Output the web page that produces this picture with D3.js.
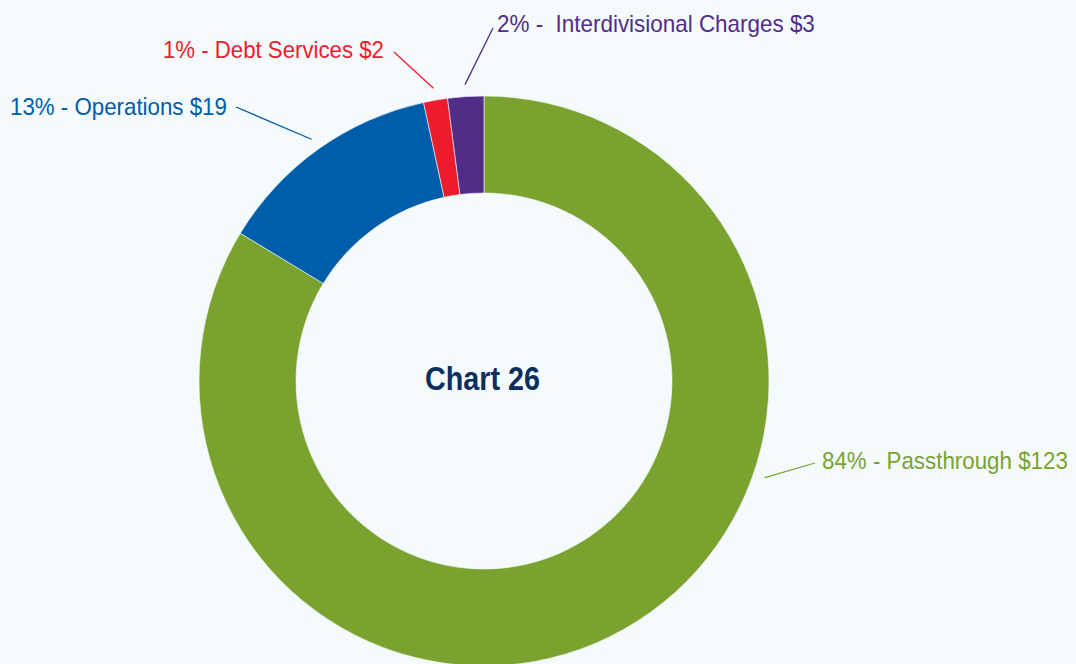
<!DOCTYPE html>
<html>
<head>
<meta charset="utf-8">
<script src="https://cdn.jsdelivr.net/npm/d3@7/dist/d3.min.js"></script>
<style>
  html, body { margin: 0; padding: 0; background: #f5fafd; }
  svg { display: block; }
  .lbl { font-family: "Liberation Sans", Arial, sans-serif; font-size: 24px; }
  .title { font-family: "Liberation Sans", Arial, sans-serif; font-size: 34px; font-weight: bold; }
</style>
</head>
<body>
<svg id="chart" width="1076" height="664"></svg>
<script>
// Spending breakdown ($ amounts), drawn clockwise from 12 o'clock
const categories = ["Passthrough", "Operations", "Debt Services", "Interdivisional Charges"];
const amounts    = [123, 19, 2, 3];
const percents   = ["84%", "13%", "1%", "2%"];
const labelTexts = [
  "84% - Passthrough $123",
  "13% - Operations $19",
  "1% - Debt Services $2",
  "2% -  Interdivisional Charges $3"
];
const colors = ["#7aa22f", "#005da9", "#ec1c2d", "#522d87"];
const centerTitle = "Chart 26";

const W = 1076, H = 664;
const cx = 484, cy = 381;
const outerR = 285, innerR = 188;

const svg = d3.select("#chart");
svg.append("rect").attr("width", W).attr("height", H).attr("fill", "#f5fafd");

const g = svg.append("g").attr("transform", `translate(${cx},${cy})`);

const slices = d3.pie().sort(null).value(d => d)(amounts);
const arc = d3.arc().innerRadius(innerR).outerRadius(outerR);

g.selectAll("path.slice")
  .data(slices)
  .join("path")
  .attr("class", "slice")
  .attr("d", arc)
  .attr("fill", (d, i) => colors[i])
  .attr("stroke", "#f5fafd")
  .attr("stroke-width", 0.6);

// Draw a horizontally condensed text so it spans width w from (x, y)
function condensedText(parent, cls, x, y, w, fill, str) {
  const holder = parent.append("g");
  const t = holder.append("text")
    .attr("class", cls)
    .attr("x", 0).attr("y", 0)
    .attr("fill", fill)
    .attr("xml:space", "preserve")
    .style("white-space", "pre")
    .text(str);
  const natural = t.node().getComputedTextLength();
  holder.attr("transform", `translate(${x},${y}) scale(${w / natural},1)`);
  return holder;
}

// Label placement: text anchor, condensed text width, leader end point,
// and the angle the leader leaves the ring (defaults to slice mid-angle)
const labelLayout = [
  { x: 822, y: 469, w: 246, end: [815, 463], angle: 109 },
  { x: 10,  y: 115, w: 217, end: [236, 107], angle: null },
  { x: 163, y: 58,  w: 221, end: [394, 52],  angle: null },
  { x: 497, y: 32,  w: 318, end: [493, 28],  angle: null }
];
const leaderR = outerR + 12;

slices.forEach((s, i) => {
  const L = labelLayout[i];
  const a = L.angle != null ? L.angle * Math.PI / 180 : (s.startAngle + s.endAngle) / 2;
  const [sx, sy] = d3.pointRadial(a, leaderR);
  svg.append("line")
    .attr("x1", cx + sx).attr("y1", cy + sy)
    .attr("x2", L.end[0]).attr("y2", L.end[1])
    .attr("stroke", colors[i])
    .attr("stroke-width", 1.3);
  condensedText(svg, "lbl", L.x, L.y, L.w, colors[i], labelTexts[i]);
});

condensedText(svg, "title", cx - 59, cy + 9, 115, "#0c2f5e", centerTitle);
</script>
</body>
</html>
